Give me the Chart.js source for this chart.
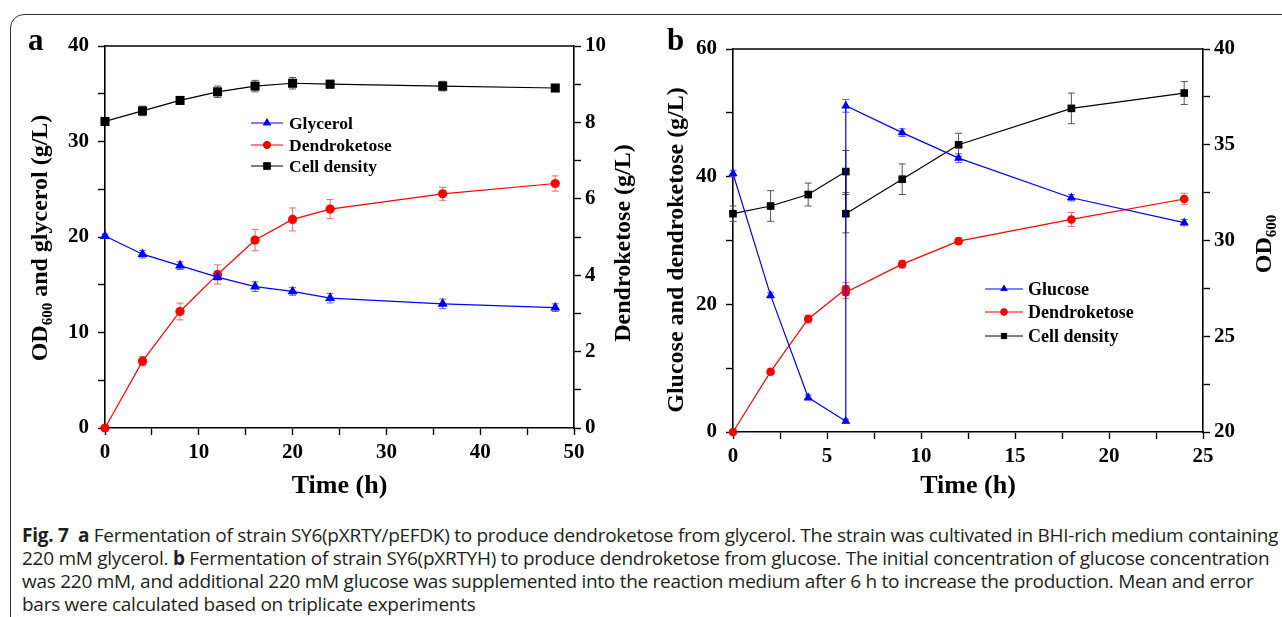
<!DOCTYPE html>
<html lang="en">
<head>
    <meta charset="UTF-8">
    <title>Fig. 7 Dendroketose fermentation</title>
    <script src="https://cdn.jsdelivr.net/npm/chart.js"></script>
    <style>
        html, body {
            margin: 0;
            padding: 0;
            width: 1282px;
            height: 617px;
            overflow: hidden;
            background: #fff;
        }

        /* rounded frame, open at right and bottom */
        .frame {
            position: absolute;
            left: 10px;
            top: 14px;
            width: 1300px;
            height: 640px;
            border: 1.5px solid #333;
            border-radius: 14px;
        }

        .panel {
            position: absolute;
            top: 0;
        }

        .tag {
            position: absolute;
            top: 22px;
            font: bold 31px 'Liberation Serif', serif;
            color: #000;
        }

        .caption {
            position: absolute;
            left: 22px;
            top: 524px;
            font-family: 'Open Sans', sans-serif;
            font-size: 19px;
            line-height: 23px;
            color: #231f20;
            white-space: nowrap;
        }
        .caption div { letter-spacing: -0.27px; }
    </style>
</head>
<body>
    <div class="frame"></div>

    <canvas id="chartA" class="panel" style="left:0px" width="640" height="510"></canvas>
    <canvas id="chartB" class="panel" style="left:640px" width="642" height="510"></canvas>

    <div class="tag" style="left:28px">a</div>
    <div class="tag" style="left:667px">b</div>

    <div class="caption">
        <div><b>Fig. 7</b>&nbsp; <b>a</b> Fermentation of strain SY6(pXRTY/pEFDK) to produce dendroketose from glycerol. The strain was cultivated in BHI-rich medium containing</div>
        <div>220 mM glycerol. <b>b</b> Fermentation of strain SY6(pXRTYH) to produce dendroketose from glucose. The initial concentration of glucose concentration</div>
        <div>was 220 mM, and additional 220 mM glucose was supplemented into the reaction medium after 6 h to increase the production. Mean and error</div>
        <div>bars were calculated based on triplicate experiments</div>
    </div>

    <script>
        // ---- Panel a: glycerol fermentation ----
        const hoursA = [0, 4, 8, 12, 16, 20, 24, 36, 48];
        const glycerol = [20.1, 18.2, 17.0, 15.8, 14.8, 14.3, 13.6, 13.0, 12.6];
        const glycerolErr = [0.2, 0.4, 0.4, 0.3, 0.5, 0.4, 0.5, 0.5, 0.4];
        const dendroA = [0, 1.75, 3.05, 4.02, 4.92, 5.46, 5.73, 6.13, 6.40];
        const dendroAErr = [0.03, 0.12, 0.22, 0.25, 0.28, 0.3, 0.25, 0.17, 0.2];
        const cellA = [32.1, 33.2, 34.3, 35.2, 35.8, 36.1, 36.0, 35.8, 35.6];
        const cellAErr = [0.4, 0.5, 0.4, 0.6, 0.6, 0.6, 0.4, 0.5, 0.2];
        const namesA = ['Glycerol', 'Dendroketose', 'Cell density'];

        // ---- Panel b: glucose fermentation (glucose fed again at 6 h) ----
        const hoursB = [0, 2, 4, 6, 6, 9, 12, 18, 24];
        const glucose = [40.5, 21.4, 5.4, 1.7, 51.1, 46.9, 42.9, 36.7, 32.8];
        const glucoseErr = [0.5, 0.4, 0.4, 0.3, 1.0, 0.6, 0.7, 0.5, 0.5];
        const dendroB = [0, 9.45, 17.7, 22.4, 21.9, 26.3, 29.9, 33.3, 36.5];
        const dendroBErr = [0.1, 0.4, 0.6, 1.0, 1.0, 0.6, 0.5, 1.1, 0.9];
        const cellB = [31.4, 31.8, 32.4, 33.6, 31.4, 33.2, 35.0, 36.9, 37.7];
        const cellBErr = [0.4, 0.8, 0.6, 1.1, 1.0, 0.8, 0.6, 0.8, 0.6];
        const namesB = ['Glucose', 'Dendroketose', 'Cell density'];

        const SERIF = "'Liberation Serif', 'Times New Roman', serif";

        const pts = (xs, ys) => xs.map((x, i) => ({ x: x, y: ys[i] }));

        // error bars drawn through the chart's own scales
        const errorBars = {
            id: 'errorBars',
            beforeDatasetsDraw(chart) {
                const ctx = chart.ctx;
                chart.data.datasets.forEach((ds, i) => {
                    const meta = chart.getDatasetMeta(i);
                    const ys = chart.scales[meta.yAxisID];
                    ctx.save();
                    ctx.strokeStyle = ds.errColor;
                    ctx.lineWidth = 1;
                    meta.data.forEach((pt, j) => {
                        const v = ds.data[j].y, e = ds.errors[j];
                        const t = ys.getPixelForValue(v + e);
                        const b = ys.getPixelForValue(v - e);
                        ctx.beginPath();
                        ctx.moveTo(pt.x, t); ctx.lineTo(pt.x, b);
                        ctx.moveTo(pt.x - 3.5, t); ctx.lineTo(pt.x + 3.5, t);
                        ctx.moveTo(pt.x - 3.5, b); ctx.lineTo(pt.x + 3.5, b);
                        ctx.stroke();
                    });
                    ctx.restore();
                });
            }
        };

        // rotated title made of [text, isSubscript] parts, read bottom to top
        function drawTitle(ctx, parts, cx, cy, size) {
            const big = 'bold ' + size + 'px ' + SERIF;
            const small = 'bold ' + Math.round(size * 0.62) + 'px ' + SERIF;
            let total = 0;
            parts.forEach(p => { ctx.font = p[1] ? small : big; total += ctx.measureText(p[0]).width; });
            ctx.save();
            ctx.translate(cx, cy);
            ctx.rotate(-Math.PI / 2);
            ctx.fillStyle = '#000';
            ctx.textBaseline = 'middle';
            let x = -total / 2;
            parts.forEach(p => {
                ctx.font = p[1] ? small : big;
                ctx.fillText(p[0], x, p[1] ? size * 0.3 : 0);
                x += ctx.measureText(p[0]).width;
            });
            ctx.restore();
        }

        // top frame line, axis titles and in-plot legend
        const decor = {
            id: 'decor',
            afterDraw(chart, args, o) {
                const ctx = chart.ctx;
                const a = chart.chartArea;
                ctx.save();
                ctx.strokeStyle = '#000';
                ctx.lineWidth = 1.6;
                ctx.beginPath();
                ctx.moveTo(a.left, a.top);
                ctx.lineTo(a.right, a.top);
                ctx.stroke();

                drawTitle(ctx, o.leftTitle, o.leftX, o.leftY, o.titleSize);
                drawTitle(ctx, o.rightTitle, o.rightX, o.rightY, o.titleSize);

                ctx.font = 'bold 26px ' + SERIF;
                ctx.fillStyle = '#000';
                ctx.textAlign = 'center';
                ctx.textBaseline = 'middle';
                ctx.fillText('Time (h)', (a.left + a.right) / 2, o.xTitleY);

                const lg = o.legend;
                ctx.textAlign = 'left';
                ctx.font = 'bold ' + lg.size + 'px ' + SERIF;
                chart.data.datasets.forEach((ds, i) => {
                    const y = lg.rows[i];
                    ctx.strokeStyle = ds.borderColor;
                    ctx.lineWidth = 1;
                    ctx.beginPath();
                    ctx.moveTo(lg.x0, y);
                    ctx.lineTo(lg.x1, y);
                    ctx.stroke();
                    Chart.helpers.drawPoint(ctx, {
                        pointStyle: ds.pointStyle,
                        radius: ds.pointRadius * 0.8,
                        borderWidth: 0
                    }, (lg.x0 + lg.x1) / 2, y);
                    ctx.fillStyle = ds.borderColor;
                    ctx.fill();
                    ctx.fillStyle = '#000';
                    ctx.fillText(ds.label, lg.textX, y + 1);
                });
                ctx.restore();
            }
        };

        function series(label, xs, ys, errs, color, errColor, style, r, axis) {
            return {
                label: label,
                data: pts(xs, ys),
                errors: errs,
                errColor: errColor,
                yAxisID: axis,
                borderColor: color,
                backgroundColor: color,
                borderWidth: 1.2,
                pointStyle: style,
                pointRadius: r,
                pointBorderWidth: 0,
                tension: 0,
                clip: false
            };
        }

        function axis(pos, min, max, step, major, width, pad, isX) {
            return {
                type: 'linear',
                position: pos,
                min: min,
                max: max,
                border: { display: true, color: '#000', width: 1.6 },
                grid: { drawOnChartArea: false, drawTicks: true, tickLength: 7, tickColor: '#000', tickWidth: 1.4 },
                ticks: {
                    stepSize: step,
                    autoSkip: false,
                    maxRotation: 0,
                    padding: pad,
                    color: '#000',
                    font: { family: SERIF, weight: 'bold', size: 21 },
                    callback: v => (Math.abs(v / major - Math.round(v / major)) < 1e-6 ? v : '')
                },
                afterFit: s => { if (isX) s.height = width; else s.width = width; }
            };
        }

        const chartA = new Chart(document.getElementById('chartA'), {
            type: 'line',
            data: {
                datasets: [
                    series(namesA[0], hoursA, glycerol, glycerolErr, '#0000ff', '#5a5aff', 'triangle', 5.8, 'y'),
                    series(namesA[1], hoursA, dendroA, dendroAErr, '#ff0000', '#f26a6a', 'circle', 4.6, 'y1'),
                    series(namesA[2], hoursA, cellA, cellAErr, '#000000', '#555555', 'rect', 6.4, 'y')
                ]
            },
            options: {
                responsive: false,
                animation: false,
                layout: { padding: { top: 46, left: 0, right: 0, bottom: 0 } },
                scales: {
                    x: axis('bottom', 0, 50, 5, 10, 82, 5, true),
                    y: axis('left', 0, 40, 5, 10, 105, 9, false),
                    y1: axis('right', 0, 10, 1, 2, 66, 4, false)
                },
                plugins: {
                    legend: { display: false },
                    tooltip: { enabled: false },
                    decor: {
                        leftTitle: [['OD', false], ['600', true], [' and glycerol (g/L)', false]],
                        rightTitle: [['Dendroketose (g/L)', false]],
                        leftX: 41, leftY: 238,
                        rightX: 624, rightY: 243,
                        titleSize: 24,
                        xTitleY: 486,
                        legend: { x0: 251, x1: 283, textX: 289, rows: [123, 145, 166], size: 17.5 }
                    }
                }
            },
            plugins: [errorBars, decor]
        });

        const chartB = new Chart(document.getElementById('chartB'), {
            type: 'line',
            data: {
                datasets: [
                    series(namesB[0], hoursB, glucose, glucoseErr, '#0000ff', '#5a5aff', 'triangle', 5.2, 'y'),
                    series(namesB[1], hoursB, dendroB, dendroBErr, '#ff0000', '#f26a6a', 'circle', 4.3, 'y'),
                    series(namesB[2], hoursB, cellB, cellBErr, '#000000', '#555555', 'rect', 5.4, 'y1')
                ]
            },
            options: {
                responsive: false,
                animation: false,
                layout: { padding: { top: 49, left: 0, right: 0, bottom: 0 } },
                scales: {
                    x: axis('bottom', 0, 25, 2.5, 5, 78, 5, true),
                    y: axis('left', 0, 60, 10, 20, 93, 9, false),
                    y1: axis('right', 20, 40, 2.5, 5, 79, 4, false)
                },
                plugins: {
                    legend: { display: false },
                    tooltip: { enabled: false },
                    decor: {
                        leftTitle: [['Glucose and dendroketose (g/L)', false]],
                        rightTitle: [['OD', false], ['600', true]],
                        leftX: 37, leftY: 250,
                        rightX: 625, rightY: 244,
                        titleSize: 24,
                        xTitleY: 486,
                        legend: { x0: 345, x1: 383, textX: 388, rows: [289, 312, 336], size: 18 }
                    }
                }
            },
            plugins: [errorBars, decor]
        });
    </script>
</body>
</html>
